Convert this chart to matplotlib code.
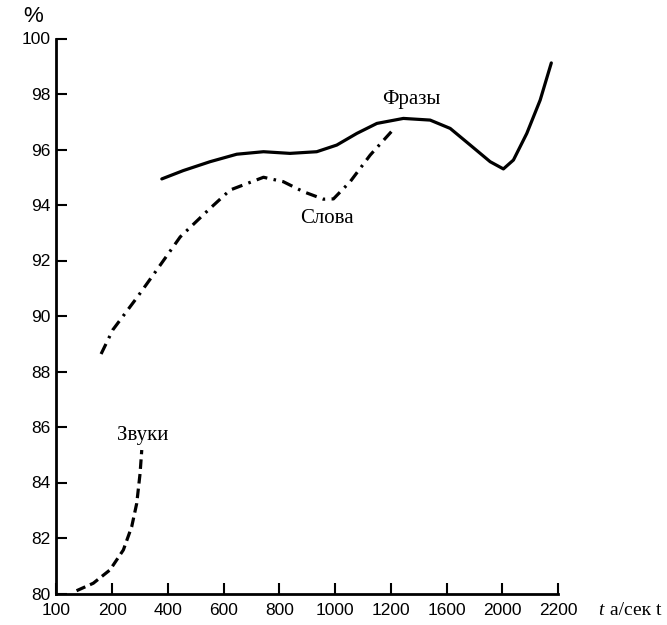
import numpy as np
import matplotlib
matplotlib.use("Agg")
import matplotlib.pyplot as plt

# tick values of the (non-uniform) frequency axis
x_ticks = [100, 200, 400, 600, 800, 1000, 1200, 1600, 2000, 2200]
y_ticks = [80, 82, 84, 86, 88, 90, 92, 94, 96, 98, 100]

# Фразы (solid)
phr_x = [378, 455, 551, 647, 743, 838, 934, 1006, 1078, 1150, 1290, 1482, 1626,
         1770, 1913, 2004, 2040, 2088, 2136, 2176]
phr_y = [94.94, 95.24, 95.56, 95.83, 95.92, 95.86, 95.92, 96.16, 96.58, 96.94, 97.12,
         97.06, 96.76, 96.16, 95.56, 95.30, 95.62, 96.58, 97.78, 99.12]

# Слова (dash-dot)
wrd_x = [180, 202, 290, 360, 444, 545, 623, 743, 814, 886, 958, 994, 1054, 1126, 1214]
wrd_y = [88.63, 89.5, 90.68, 91.66, 92.85, 93.82, 94.54, 95.0, 94.84, 94.48, 94.21,
         94.22, 94.84, 95.80, 96.70]

# Звуки (dashed)
snd_x = [136, 166, 196, 240, 270, 288, 300, 306]
snd_y = [80.1, 80.37, 80.85, 81.57, 82.41, 83.25, 84.33, 85.17]

idx = np.arange(len(x_ticks), dtype=float)

def fwd(v):
    return np.interp(v, x_ticks, idx)

def inv(v):
    return np.interp(v, idx, x_ticks)

plt.rcParams['font.family'] = ['Liberation Sans', 'DejaVu Sans']

fig = plt.figure(figsize=(6.67, 6.25), dpi=100)
ax = fig.add_axes([56.5 / 667, 1 - 593.5 / 625, (558 - 56.5) / 667, (593.5 - 38.5) / 625])
ax.set_xscale('function', functions=(fwd, inv))
ax.set_xlim(100, 2200)
ax.set_ylim(80, 100)

lw = 2.3
ax.plot(phr_x, phr_y, color='black', lw=lw, solid_capstyle='round', solid_joinstyle='round')
ax.plot(wrd_x, wrd_y, color='black', lw=lw, dashes=(3.5, 2.0, 0.8, 2.0))
ax.plot(snd_x, snd_y, color='black', lw=lw, dashes=(3.0, 1.6))

serif = ['Liberation Serif', 'DejaVu Serif']
ax.text(1344, 97.8, 'Фразы', family=serif, fontsize=15, ha='center', va='center')
ax.text(972, 93.5, 'Слова', family=serif, fontsize=15, ha='center', va='center')
ax.text(308, 85.7, 'Звуки', family=serif, fontsize=15, ha='center', va='center')

ax.set_xticks(x_ticks)
ax.set_xticklabels([str(v) for v in x_ticks])
ax.set_yticks(y_ticks)
ax.set_yticklabels([str(v) for v in y_ticks])
ax.minorticks_off()
ax.tick_params(axis='both', direction='in', length=8, width=1.5, labelsize=12.5, pad=4)
ax.tick_params(axis='x', pad=7)

for s in ['top', 'right']:
    ax.spines[s].set_visible(False)
for s in ['left', 'bottom']:
    ax.spines[s].set_linewidth(2)

ax.text(-0.047, 1.039, '%', transform=ax.transAxes, fontsize=16, ha='center', va='center')
ax.text(1.08, -0.03, 't', transform=ax.transAxes, family=serif, style='italic',
        fontsize=14, ha='left', va='center')
ax.text(1.104, -0.03, 'а/сек t', transform=ax.transAxes, family=serif, fontsize=14,
        ha='left', va='center')

fig.savefig('out.png', dpi=100)
